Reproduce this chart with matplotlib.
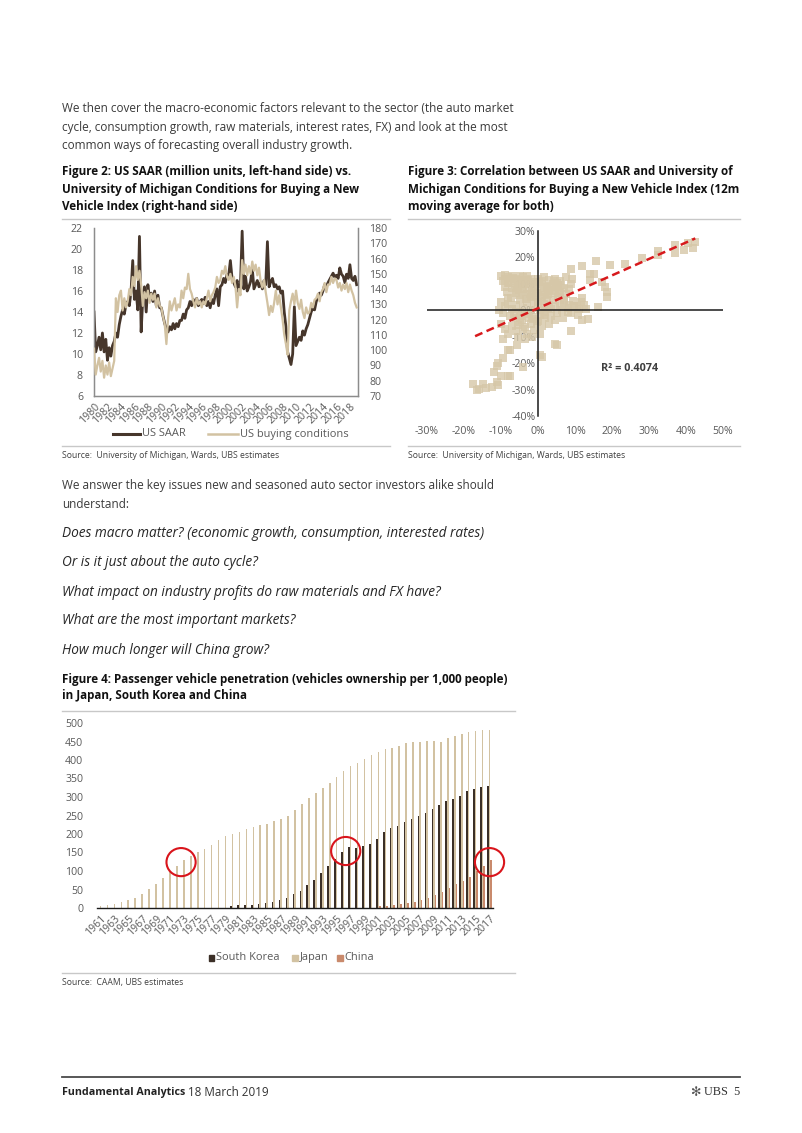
import matplotlib
matplotlib.use("Agg")
import matplotlib.pyplot as plt
from matplotlib.lines import Line2D
from matplotlib.patches import Ellipse, Rectangle
from matplotlib.ticker import FuncFormatter
import numpy as np

FONT = "Open Sans"
plt.rcParams["font.family"] = [FONT, "DejaVu Sans"]

# ---------------- data: Figure 2 (quarterly, 1980Q1 .. 2019Q1) ----------------
saar_start = 1980.0
us_saar = [
    14.0, 10.2, 10.8, 11.6,  10.4, 12.0, 10.2, 11.4,  9.4, 10.6, 9.8, 10.8,
    11.2, 12.0, 11.6, 12.8,  13.6, 14.2, 13.8, 14.7,  15.0, 14.6, 16.0, 18.9,
    15.2, 16.0, 14.2, 21.2,  12.1, 15.4, 16.4, 14.0,  16.6, 15.2, 15.8, 15.0,
    16.0, 14.6, 15.6, 14.4,  14.4, 13.6, 12.9, 12.4,  12.1, 12.6, 12.3, 12.9,
    12.4, 12.9, 12.6, 13.2,  13.2, 13.8, 13.4, 14.2,  14.4, 15.0, 14.6, 15.2,
    14.7, 15.3, 14.6, 15.0,  15.2, 14.8, 15.4, 14.6,  15.0, 14.4, 15.2, 14.8,
    15.6, 16.2, 14.6, 16.4,  16.6, 17.2, 16.8, 17.6,  17.5, 18.9, 17.2, 16.8,
    16.4, 17.0, 15.9, 16.6,  21.7, 16.2, 17.4, 16.0,  16.4, 16.9, 18.2, 16.2,
    16.6, 17.0, 16.4, 16.8,  16.2, 17.0, 16.6, 20.7,  16.4, 16.9, 17.2, 16.4,
    16.6, 16.2, 16.4, 15.8,  16.0, 14.0, 12.6, 10.2,  9.6, 9.0, 10.0, 14.5,
    10.8, 11.2, 11.6, 11.3,  12.2, 11.8, 12.4, 12.8,  13.4, 14.0, 14.4, 14.2,
    15.0, 15.4, 15.8, 15.6,  16.0, 16.6, 16.4, 16.8,  17.1, 17.4, 17.7, 17.3,
    17.5, 17.2, 18.2, 17.6,  17.4, 16.8, 17.6, 17.2,  18.5, 17.2, 17.0, 17.4,
    16.6,
]
us_buying = [
    101, 84, 90, 95,  86, 93, 82, 90,  84, 92, 83, 88,
    93, 134, 125, 136,  139, 126, 134, 128,  132, 140, 136, 148,
    142, 155, 146, 152,  143, 129, 138, 134,  139, 131, 137, 133,
    137, 128, 134, 129,  128, 122, 117, 104,  121, 132, 126, 130,
    134, 126, 130, 128,  139, 134, 141, 140,  150, 140, 137, 132,
    128, 134, 130, 132,  128, 132, 130, 134,  139, 132, 136, 138,
    141, 148, 144, 146,  152, 150, 155, 148,  146, 150, 144, 148,
    142, 128, 140, 136,  159, 150, 156, 149,  155, 150, 158, 152,
    156, 149, 154, 145,  141, 146, 138, 131,  123, 129, 125, 131,
    139, 130, 136, 128,  120, 110, 104, 97,  126, 132, 137, 130,
    139, 131, 127, 133,  125, 121, 128, 124,  125, 131, 128, 133,
    134, 137, 132, 138,  140, 144, 138, 143,  143, 148, 144, 147,
    146, 141, 144, 139,  143, 140, 144, 138,  143, 139, 136, 131,
    128,
]
fig2_years = list(range(1980, 2019, 2))

# ---------------- data: Figure 3 (scatter, % changes) ----------------
scatter_x = [
    -10, -9, -8, -7, -6, -5, -4, -3, -9.5, -8, -6.5, -5, -3.5, -2, -9, -7, -5.5, -4, -2.5, -1, -8.5, -6, -3, -1.5,
    0, 1.5, 3, 4.5, 6, 7.5, 9, 1, 2.5, 4, 5.5, 7, 8.5, 0, 1.5, 3, 4.5, 6, 7.5, -0.5, 1, 2.5, 4, 5.5, 7,
    0, 1.5, 3, 4.5, 6, -1, 0.5, 2, 3.5, 5, 6.5, 8,
    -10, -9, -8, -7, -6, -5, -4, -3, -2, -9.5, -7.5, -6, -4.5, -3, -1.5, -8, -5, -2, -10.5,
    -10, -9, -8, -9.5, -7, -6, -5, -4, -3, -2, -1, 0, 0.5, -1.5, -3.5, 1, 2, 3, 4.5,
    7, 8.5, 9.5, 10.5, 11.5, 12.5, 13, 9, 10.8, 11.8, 13.6, 6.8, 12,
    9, 11.8, 15.6, 19.5, 23.5, 28, 32.5, 32.3, 37, 37, 39.5, 40.6, 42.5, 42, 14, 14, 17.2, 18, 18.6, 18.6, 16.3, 9.1, 15,
    -16.6, -15, -14, -11, -10, -12, -11, -9.4, -7.6, -5.8, -7.6, -4, 0.5, 5, 9, -17.5, -16, -12.4, -10.7, -8, -10.7, -8,
    -5.3, 4.6, 1,
    -8.8, -7.8, -6.8, -5.8, -4.8, -3.8, -2.8, -1.8, -0.8, 0.2, 1.2, 2.2, 3.2, 4.2, 5.2, 6.2,
    -7.2, -6.2, -5.2, -4.2, -3.2, -2.2, -1.2, -0.2, 0.8, 1.8, 2.8, 3.8, 4.8, 5.8,
    -6.4, -4.4, -2.4, -0.4, 1.6, 3.6, -5.4, -3.4, -1.4, 0.6, 2.6, 8.2, 9.8, 11.2,
]
scatter_y = [
    13, 13.5, 12.5, 13, 12, 13, 12.5, 13, 11, 10.5, 11, 10, 11, 10, 9, 8.5, 9, 8, 8.5, 9, 7, 6.5, 6, 7,
    12, 12.5, 11.5, 12, 11, 12.5, 10, 10, 9, 10, 9.5, 8.5, 8, 8, 7, 7.5, 6.5, 7, 6, 5.5, 5, 4.5, 4, 5, 4,
    3, 2.5, 2, 1.5, 2, 1, 0, -0.5, 0.5, -1, 0, 1,
    3, 1.5, 2.5, 0.5, 2, -0.5, 1, 3, 0, -1, -2, -3, -2, -1.5, -2.5, 4.5, 4, 5, 0,
    -5, -7, -9, -11, -6, -8, -4.5, -7, -9, -5, -7.5, -4, -9, -10, -11, -6, -3, -5, -3.5,
    3, 2, 3.5, 1.5, 3, 2, 0.5, -1, -1.9, -3.8, -3.2, -3, 4.5,
    15.7, 16.8, 18.7, 17.2, 17.7, 19.6, 20.8, 22.5, 24.6, 21.8, 22.7, 25.3, 25.8, 23.5, 13.9, 11.4, 10.7, 8.8, 6.9, 5, 1.3, 12, 13.9,
    -30, -28, -29.5, -27, -25, -23.5, -21, -18, -15, -13, -25, -21.5, -17, -13, -8, -28, -29.7, -29, -28.4, -24.7, -20, -15,
    -10, -12.6, -17.7,
    11.8, 10.2, 12.2, 9.6, 11.6, 9.8, 11.4, 12.0, 10.6, 10.8, 11.2, 8.4, 9.2, 11.0, 10.4, 9.4,
    4.6, 7.6, 5.8, 6.8, 4.4, 6.2, 3.8, 6.6, 3.4, 5.6, 6.0, 7.2, 8.8, 6.4,
    -1.4, -3.6, -2.8, -4.4, -1.8, -2.2, -5.6, -6.4, -3.2, -1.6, 0.8, -0.6, 1.6, 0.4,
]
trend_x = [-17.0, 42.5]
trend_y = [-9.8, 27.2]
r_squared = 0.4074

# ---------------- data: Figure 4 ----------------
years4 = list(range(1961, 2018))
japan = [6, 9, 12, 17, 22, 28, 38, 52, 64, 81, 97, 113, 129, 141, 151, 160, 171, 183, 194,
         200, 206, 213, 219, 223, 228, 234, 240, 249, 264, 281, 298, 312, 325, 339, 355, 370,
         384, 393, 404, 413, 421, 429, 433, 439, 445, 449, 450, 452, 451, 450, 459, 465, 470,
         475, 478, 480, 482]
korea = [0] * 19 + [5, 7, 8, 9, 11, 14, 17, 21, 27, 37, 47, 63, 77, 95, 114, 132, 151, 165,
                    163, 168, 172, 187, 205, 216, 222, 232, 241, 250, 257, 268, 278, 288, 295,
                    304, 315, 321, 326, 331]
china = [0] * 40 + [5, 6, 8, 10, 13, 17, 21, 26, 34, 44, 54, 64, 74, 85, 100, 113, 130]

# ---------------- layout helpers ----------------
W, H = 802, 1133
fig = plt.figure(figsize=(W / 100, H / 100), dpi=100)
fig.patch.set_facecolor("white")


def ax_px(l, t, r, b):
    return fig.add_axes([l / W, 1 - b / H, (r - l) / W, (b - t) / H])


def txt(x, y, s, **kw):
    kw.setdefault("va", "center")
    fig.text(x / W, 1 - y / H, s, **kw)


def hline(x0, x1, y, color="#c8c8c8", lw=1.0):
    fig.add_artist(Line2D([x0 / W, x1 / W], [1 - y / H, 1 - y / H], color=color,
                          lw=lw, transform=fig.transFigure))


BODY = "#3a3a3a"
TICK = "#595959"
DARK = "#46362b"
TAN = "#d2c2a2"
SALMON = "#c98a6c"
BODY_FS = 8.45
TITLE_FS = 8.35

# ---------------- text blocks ----------------
txt(62, 108, "We then cover the macro-economic factors relevant to the sector (the auto market", fontsize=BODY_FS, color=BODY)
txt(62, 127, "cycle, consumption growth, raw materials, interest rates, FX) and look at the most", fontsize=BODY_FS, color=BODY)
txt(62, 146, "common ways of forecasting overall industry growth.", fontsize=BODY_FS, color=BODY)

for i, s in enumerate(["Figure 2: US SAAR (million units, left-hand side) vs.",
                       "University of Michigan Conditions for Buying a New",
                       "Vehicle Index (right-hand side)"]):
    txt(62, 172 + 17.3 * i, s, fontsize=TITLE_FS, fontweight="bold", color="#111111")
for i, s in enumerate(["Figure 3: Correlation between US SAAR and University of",
                       "Michigan Conditions for Buying a New Vehicle Index (12m",
                       "moving average for both)"]):
    txt(408, 172 + 17.3 * i, s, fontsize=TITLE_FS, fontweight="bold", color="#111111")

hline(62, 390, 219)
hline(408, 740, 219)
hline(62, 390, 446)
hline(408, 740, 446)
txt(62, 455, "Source:  University of Michigan, Wards, UBS estimates", fontsize=6.2, color="#404040")
txt(408, 455, "Source:  University of Michigan, Wards, UBS estimates", fontsize=6.2, color="#404040")

txt(62, 486, "We answer the key issues new and seasoned auto sector investors alike should", fontsize=BODY_FS, color=BODY)
txt(62, 505, "understand:", fontsize=BODY_FS, color=BODY)
for y, s in [(533, "Does macro matter? (economic growth, consumption, interested rates)"),
             (563, "Or is it just about the auto cycle?"),
             (592, "What impact on industry profits do raw materials and FX have?"),
             (621, "What are the most important markets?"),
             (651, "How much longer will China grow?")]:
    txt(62, y, s, fontsize=9.8, style="italic", color="#262626")

txt(62, 679, "Figure 4: Passenger vehicle penetration (vehicles ownership per 1,000 people)", fontsize=TITLE_FS, fontweight="bold", color="#111111")
txt(62, 696, "in Japan, South Korea and China", fontsize=TITLE_FS, fontweight="bold", color="#111111")
hline(62, 515, 711)
hline(62, 515, 973)
txt(62, 982, "Source:  CAAM, UBS estimates", fontsize=6.2, color="#404040")

# footer
hline(62, 740, 1077, color="#4a4a4a", lw=1.3)
txt(62, 1092, "Fundamental Analytics", fontsize=7.7, fontweight="bold", color="#222222")
txt(188, 1092, "18 March 2019", fontsize=8.4, color="#333333")
txt(740, 1092, "UBS  5", fontsize=8.8, color="#333333", ha="right", family="Liberation Serif")
txt(701, 1092, "\u273b", fontsize=9, color="#555555", ha="right", family="DejaVu Sans")

# ---------------- Figure 2 ----------------
t = saar_start + 0.25 * np.arange(len(us_saar))
ax2 = ax_px(94, 228, 358, 396)
ax2.plot(t, us_saar, color=DARK, lw=2.0, zorder=2)
ax2.set_xlim(1980, 2019.2)
ax2.set_ylim(6, 22)
ax2.set_yticks(range(6, 23, 2))
ax2.set_xticks(fig2_years)
ax2.set_xticklabels([str(y) for y in fig2_years], rotation=45, ha="right",
                    rotation_mode="anchor", fontsize=7.6, color=TICK)
ax2.tick_params(axis="both", length=0, labelsize=7.6, labelcolor=TICK)
ax2.tick_params(axis="x", pad=4)
ax2.tick_params(axis="y", pad=8)
ax2.spines["top"].set_visible(False)
for s in ["left", "right", "bottom"]:
    ax2.spines[s].set_color("#8c8c8c")
    ax2.spines[s].set_linewidth(1.0)
ax2b = ax2.twinx()
ax2b.plot(t, us_buying, color=TAN, lw=1.6, zorder=3)
ax2b.set_ylim(70, 180)
ax2b.set_yticks(range(70, 181, 10))
ax2b.tick_params(axis="y", length=0, labelsize=7.6, labelcolor=TICK, pad=8)
ax2b.spines["top"].set_visible(False)
for s in ["left", "right", "bottom"]:
    ax2b.spines[s].set_color("#8c8c8c")

# legend fig 2
fig.add_artist(Line2D([113 / W, 140 / W], [1 - 434 / H] * 2, color=DARK, lw=2.2, transform=fig.transFigure))
txt(142, 434, "US SAAR", fontsize=7.9, color=TICK)
fig.add_artist(Line2D([208 / W, 238 / W], [1 - 434 / H] * 2, color=TAN, lw=1.8, transform=fig.transFigure))
txt(240, 434, "US buying conditions", fontsize=7.9, color=TICK)

# ---------------- Figure 3 ----------------
ax3 = ax_px(427, 231, 723, 416)
ax3.scatter(np.array(scatter_x) / 100, np.array(scatter_y) / 100, marker="s", s=27,
            color="#d6c7a8", alpha=0.8, linewidths=0, zorder=2)
ax3.plot(np.array(trend_x) / 100, np.array(trend_y) / 100, color="#d7191c", lw=1.8,
         ls=(0, (3.2, 1.8)), zorder=4)
ax3.set_xlim(-0.30, 0.50)
ax3.set_ylim(-0.40, 0.30)
ax3.axhline(0, color="#1a1a1a", lw=1.1, zorder=3)
ax3.spines["left"].set_position(("data", 0))
ax3.spines["left"].set_color("#1a1a1a")
ax3.spines["left"].set_linewidth(1.1)
ax3.spines["left"].set_zorder(3)
for s in ["top", "right", "bottom"]:
    ax3.spines[s].set_visible(False)
pct = FuncFormatter(lambda v, p: f"{v * 100:.0f}%")
ax3.set_xticks(np.arange(-0.3, 0.51, 0.1))
ax3.set_yticks(np.arange(-0.4, 0.31, 0.1))
ax3.xaxis.set_major_formatter(pct)
ax3.yaxis.set_major_formatter(pct)
ax3.tick_params(axis="both", length=0, labelsize=7.6, labelcolor=TICK)
ax3.tick_params(axis="x", pad=7)
ax3.tick_params(axis="y", pad=2)
ax3.patch.set_alpha(0)
ax3.text(0.17, -0.22, f"R\u00b2 = {r_squared:.4f}", fontsize=7.8, fontweight="bold",
         color="#404040", va="center", ha="left")

# ---------------- Figure 4 ----------------
ax4 = ax_px(97, 723, 493, 908)
xi = np.arange(len(years4))
bw = 0.23
ax4.bar(xi - bw, korea, width=bw, color="#3b2f27", linewidth=0)
ax4.bar(xi, japan, width=bw, color=TAN, linewidth=0)
ax4.bar(xi + bw, china, width=bw, color=SALMON, linewidth=0)
ax4.set_xlim(-0.5, len(years4) - 0.5)
ax4.set_ylim(0, 500)
ax4.set_yticks(range(0, 501, 50))
ax4.set_xticks(xi[::2])
ax4.set_xticklabels([str(y) for y in years4[::2]], rotation=45, ha="right",
                    rotation_mode="anchor", fontsize=7.6, color=TICK)
ax4.tick_params(axis="both", length=0, labelsize=7.6, labelcolor=TICK)
ax4.tick_params(axis="y", pad=10)
ax4.tick_params(axis="x", pad=4)
for s in ["top", "right", "left"]:
    ax4.spines[s].set_visible(False)
ax4.spines["bottom"].set_color("#1a1a1a")
ax4.spines["bottom"].set_linewidth(1.0)
for cx, cy in [(11.6, 124), (35.3, 154), (56.0, 124)]:
    ax4.add_patch(Ellipse((cx, cy), 4.2, 76, fill=False, ec="#d9141b", lw=1.5,
                          clip_on=False, zorder=5))

# legend fig 4
for x0, col, lab in [(209, "#3b2f27", "South Korea"), (292, TAN, "Japan"), (337, SALMON, "China")]:
    fig.add_artist(Rectangle(((x0) / W, 1 - 960.5 / H), 5.5 / W, 5.5 / H, color=col,
                             transform=fig.transFigure))
    txt(x0 + 7.5, 957.5, lab, fontsize=7.9, color=TICK)

fig.savefig("out.png", dpi=100, facecolor="white")
